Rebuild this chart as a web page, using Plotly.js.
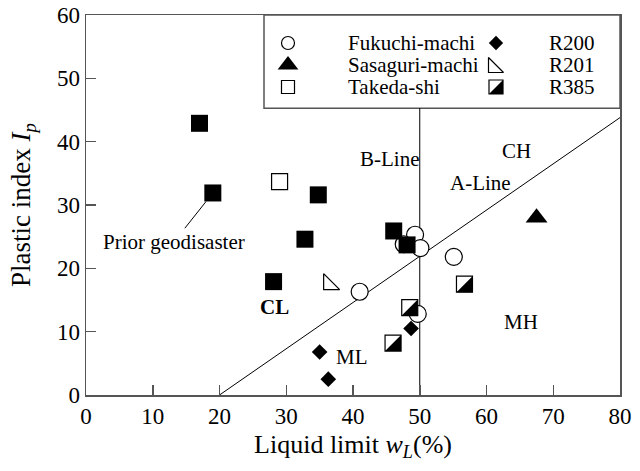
<!DOCTYPE html>
<html>
<head>
<meta charset="utf-8">
<script src="https://cdn.plot.ly/plotly-3.0.1.min.js"></script>
<style>
  html, body { margin: 0; padding: 0; background: #fff; }
  #chart { width: 640px; height: 471px; }
</style>
</head>
<body>
<div id="chart"></div>
<script>
// Plasticity chart: liquid limit wL (%) against plastic index Ip
const fukuchiX  = [49.3, 47.6, 50.1, 55.1, 41.0, 49.7];
const fukuchiY  = [25.3, 23.8, 23.2, 21.8, 16.3, 12.8];
const sasaguriX = [67.5];
const sasaguriY = [28.0];
const takedaX   = [29.0];
const takedaY   = [33.7];
const priorX    = [17.0, 19.0, 34.8, 32.8, 28.1, 46.1, 48.1];
const priorY    = [42.9, 31.9, 31.6, 24.6, 17.9, 25.9, 23.7];
const r200X     = [35.0, 36.3, 48.7];
const r200Y     = [6.8, 2.5, 10.5];
const r201X     = [36.8];
const r201Y     = [17.9];
const r385X     = [56.7, 48.5, 46.0];
const r385Y     = [17.5, 13.8, 8.2];

// A-Line: Ip = 0.73 (wL - 20); B-Line: wL = 50
const aLineX = [20, 80];
const aLineY = [0, 43.8];
const bLineX = [50, 50];
const bLineY = [0, 45.3];

const xTicks = [0, 10, 20, 30, 40, 50, 60, 70, 80];
const yTicks = [0, 10, 20, 30, 40, 50, 60];

const zoneLabels = ['CL', 'ML', 'MH', 'CH', 'A-Line', 'B-Line'];
const zoneX      = [28.2, 39.8, 65.1, 64.5, 59.1, 45.5];
const zoneY      = [13.9, 6.0, 11.6, 38.6, 33.5, 37.3];

const legendNames = ['Fukuchi-machi', 'R200', 'Sasaguri-machi', 'R201', 'Takeda-shi', 'R385'];

// ---- geometry -------------------------------------------------------------
const W = 640, H = 471;
const M = { l: 86, r: 20, t: 15, b: 76 };
const PW = W - M.l - M.r, PH = H - M.t - M.b;
const X_RANGE = [0, 80], Y_RANGE = [0, 60];
const KX = PW / (X_RANGE[1] - X_RANGE[0]);   // px per x unit
const KY = PH / (Y_RANGE[1] - Y_RANGE[0]);   // px per y unit

const FONT = 'Liberation Serif, Times New Roman, serif';
const INK = '#000';
const FRAME = '#555';

// Plotly's right-angle triangles have legs of 0.9*size and are centred on
// their centroid, so the bounding box sits 0.15*size away from the
// right-angle corner. Hidden overlay axes cancel that shift.
const triSize = side => side / 0.9;
const triShift = size => 0.15 * size;
function shiftedAxes(dxPx, dyPx) {
  // dxPx > 0 moves marks right, dyPx > 0 moves marks up
  return [
    { overlaying: 'x', range: [X_RANGE[0] - dxPx / KX, X_RANGE[1] - dxPx / KX], visible: false, fixedrange: true },
    { overlaying: 'y', range: [Y_RANGE[0] - dyPx / KY, Y_RANGE[1] - dyPx / KY], visible: false, fixedrange: true }
  ];
}

// marker styles
const S = {
  fukuchi:  { symbol: 'circle', size: 17, color: '#fff', line: { color: INK, width: 1.2 } },
  sasaguri: { symbol: 'triangle-up', size: 19, color: INK, line: { width: 0 } },
  takeda:   { symbol: 'square', size: 16, color: '#fff', line: { color: INK, width: 1.2 } },
  prior:    { symbol: 'square', size: 17, color: INK, line: { width: 0 } },
  r200:     { symbol: 'diamond', size: 12, color: INK, line: { width: 0 } },
  r201:     { symbol: 'triangle-sw', size: triSize(16), color: '#fff', line: { color: INK, width: 1.2 } },
  r385box:  { symbol: 'square', size: 16, color: '#fff', line: { color: INK, width: 1.2 } },
  r385half: { symbol: 'triangle-se', size: triSize(16), color: INK, line: { width: 0 } }
};

// triangle-se: corner bottom-right -> move right & down; triangle-sw: left & down
const [xa2, ya2] = shiftedAxes(triShift(S.r385half.size), -triShift(S.r385half.size));
const [xa3, ya3] = shiftedAxes(-triShift(S.r201.size), -triShift(S.r201.size));

function pts(x, y, marker, extra) {
  return Object.assign({ type: 'scatter', mode: 'markers', x: x, y: y, marker: marker,
    hoverinfo: 'x+y', showlegend: false, cliponaxis: false }, extra || {});
}

const traces = [
  { type: 'scatter', mode: 'lines', x: aLineX, y: aLineY, line: { color: INK, width: 1 }, hoverinfo: 'skip', showlegend: false },
  { type: 'scatter', mode: 'lines', x: bLineX, y: bLineY, line: { color: INK, width: 1 }, hoverinfo: 'skip', showlegend: false },
  pts(fukuchiX, fukuchiY, S.fukuchi),
  pts(sasaguriX, sasaguriY, S.sasaguri),
  pts(takedaX, takedaY, S.takeda),
  pts(priorX, priorY, S.prior),
  pts(r200X, r200Y, S.r200),
  pts(r385X, r385Y, S.r385box),
  pts(r385X, r385Y, S.r385half, { xaxis: 'x2', yaxis: 'y2' }),
  pts(r201X, r201Y, S.r201, { xaxis: 'x3', yaxis: 'y3' })
];

// ---- key box: two columns of three entries, laid out in plot pixels -------
const KEY = { colSym: [202, 410], colText: [260, 461], rows: [28, 50, 72] };
const keyStyles = [
  [{ symbol: 'circle', size: 13, color: '#fff', line: { color: INK, width: 1.2 } }],
  [{ symbol: 'diamond', size: 11, color: INK, line: { width: 0 } }],
  [{ symbol: 'triangle-up', size: 18, color: INK, line: { width: 0 } }],
  [{ symbol: 'triangle-sw', size: triSize(15), color: '#fff', line: { color: INK, width: 1.2 } }],
  [{ symbol: 'square', size: 13, color: '#fff', line: { color: INK, width: 1.2 } }],
  [{ symbol: 'square', size: 14, color: '#fff', line: { color: INK, width: 1.2 } },
   { symbol: 'triangle-se', size: triSize(14), color: INK, line: { width: 0 } }]
];
const keyAnn = [];
legendNames.forEach((name, i) => {
  const col = i % 2, row = Math.floor(i / 2);
  const cx = KEY.colSym[col], cy = KEY.rows[row];
  keyStyles[i].forEach(m => {
    // key axes run downward, so "down" is +y here
    let dx = 0, dy = 0;
    if (m.symbol === 'triangle-se') { dx = triShift(m.size); dy = triShift(m.size); }
    if (m.symbol === 'triangle-sw') { dx = -triShift(m.size); dy = triShift(m.size); }
    traces.push({ type: 'scatter', mode: 'markers', x: [cx + dx], y: [cy + dy], marker: m,
      xaxis: 'x4', yaxis: 'y4', hoverinfo: 'skip', showlegend: false, cliponaxis: false });
  });
  keyAnn.push({ xref: 'x4', yref: 'y4', x: KEY.colText[col], y: cy, text: name, showarrow: false,
    xanchor: 'left', yanchor: 'middle', font: { family: FONT, size: 21, color: INK } });
});

// ---- annotations -----------------------------------------------------------
const annotations = zoneLabels.map((t, i) => ({
  x: zoneX[i], y: zoneY[i], text: t === 'CL' ? '<b>CL</b>' : t, showarrow: false,
  xanchor: 'center', yanchor: 'middle', font: { family: FONT, size: 21, color: INK }
}));
annotations.push({
  x: priorX[1], y: priorY[1], ax: 13.2, ay: 24.2, axref: 'x', ayref: 'y',
  text: 'Prior geodisaster', showarrow: true, arrowhead: 0, arrowwidth: 1, arrowcolor: INK,
  standoff: 11, font: { family: FONT, size: 21, color: INK }
});

const axisCommon = {
  showgrid: false, zeroline: false, showline: true, mirror: true,
  linecolor: FRAME, linewidth: 1.5, ticks: 'inside', ticklen: 10, tickwidth: 1.5,
  tickcolor: FRAME, tickfont: { family: FONT, size: 23, color: INK }, fixedrange: true
};

const layout = {
  width: W, height: H, margin: M,
  paper_bgcolor: '#fff', plot_bgcolor: '#fff',
  font: { family: FONT, color: INK },
  xaxis: Object.assign({}, axisCommon, {
    range: X_RANGE, tickmode: 'array', tickvals: xTicks,
    title: { text: 'Liquid limit <i>w</i><sub><i>L</i></sub>(%)', font: { family: FONT, size: 26, color: INK }, standoff: 6 }
  }),
  yaxis: Object.assign({}, axisCommon, {
    range: Y_RANGE, tickmode: 'array', tickvals: yTicks,
    title: { text: 'Plastic index <i>I</i><sub><i>p</i></sub>', font: { family: FONT, size: 27, color: INK }, standoff: 18 }
  }),
  xaxis2: xa2, yaxis2: ya2,
  xaxis3: xa3, yaxis3: ya3,
  xaxis4: { overlaying: 'x', range: [0, PW], visible: false, fixedrange: true },
  yaxis4: { overlaying: 'y', range: [PH, 0], visible: false, fixedrange: true },
  shapes: [{
    type: 'rect', xref: 'x4', yref: 'y4', x0: 178, x1: PW, y0: 0, y1: 93.3,
    line: { color: FRAME, width: 1.5 }, fillcolor: '#fff', layer: 'below'
  }],
  annotations: annotations.concat(keyAnn),
  showlegend: false
};

Plotly.newPlot('chart', traces, layout, { displayModeBar: false, staticPlot: true });
</script>
</body>
</html>
